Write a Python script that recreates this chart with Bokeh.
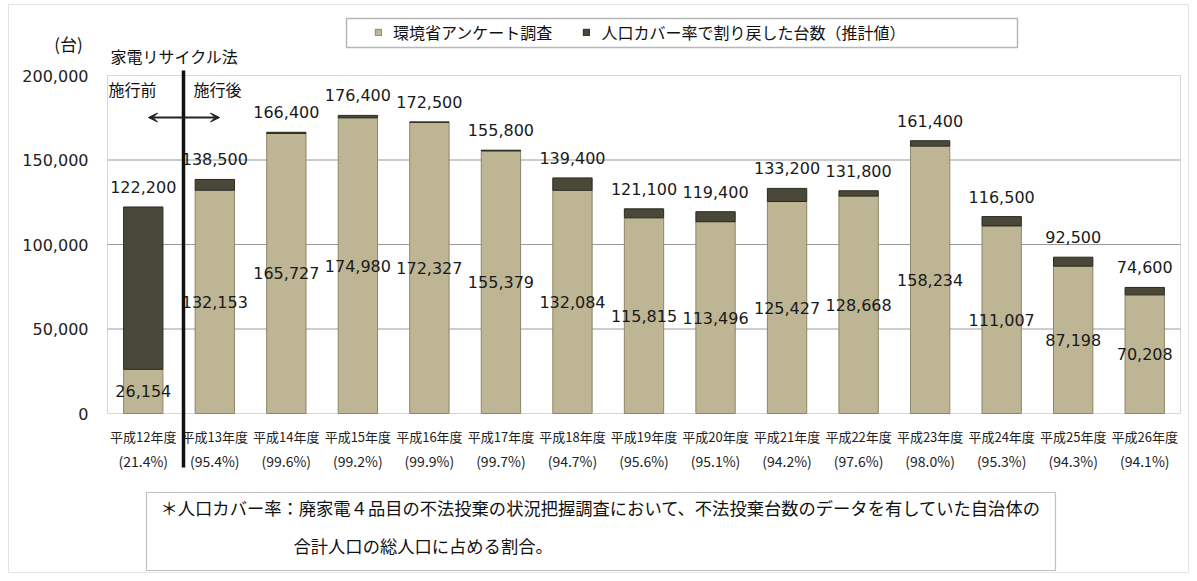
from bokeh.plotting import figure
from bokeh.models import (ColumnDataSource, Range1d, FixedTicker, NumeralTickFormatter,
                          LinearAxis, Legend, LegendItem, Label, Arrow, VeeHead,
                          BoxAnnotation)
from bokeh.core.properties import value
from bokeh.embed import file_html
from bokeh.resources import INLINE

# ---------------- data ----------------
years = ["平成12年度", "平成13年度", "平成14年度", "平成15年度", "平成16年度",
         "平成17年度", "平成18年度", "平成19年度", "平成20年度", "平成21年度",
         "平成22年度", "平成23年度", "平成24年度", "平成25年度", "平成26年度"]
survey = [26154, 132153, 165727, 174980, 172327, 155379, 132084, 115815,
          113496, 125427, 128668, 158234, 111007, 87198, 70208]
total = [122200, 138500, 166400, 176400, 172500, 155800, 139400, 121100,
         119400, 133200, 131800, 161400, 116500, 92500, 74600]
coverage = [21.4, 95.4, 99.6, 99.2, 99.9, 99.7, 94.7, 95.6, 95.1, 94.2,
            97.6, 98.0, 95.3, 94.3, 94.1]
series_names = ["環境省アンケート調査", "人口カバー率で割り戻した台数（推計値）"]
y_ticks = [0, 50000, 100000, 150000, 200000]
Y_MAX = 200000

# ---------------- layout / styles ----------------
W, H = 1189, 573
PLOT_L, PLOT_R, PLOT_T, PLOT_B = 107, 1180, 75, 413   # plot-area box in px
TAN = "#bdb593"
DARK = "#4a4939"
NUM_FONT = "DejaVu Sans"
JP_FONT = "Noto Sans CJK JP"
TXT = "#1a1a1a"

n = len(years)
kx = (PLOT_R - PLOT_L) / n
ky = Y_MAX / (PLOT_B - PLOT_T)
x_range = Range1d(-PLOT_L / kx, n + (W - PLOT_R) / kx)
y_range = Range1d(-(H - PLOT_B) * ky, Y_MAX + PLOT_T * ky)


def sx(X):
    return X


def sy(Y):
    return H - Y


xpos = [i + 0.5 for i in range(n)]
src = ColumnDataSource(dict(
    x=xpos,
    survey=survey,
    total=total,
    mid=[v / 2 for v in survey],
    survey_lbl=[f"{v:,}" for v in survey],
    total_lbl=[f"{v:,}" for v in total],
))

p = figure(width=W, height=H, x_range=x_range, y_range=y_range,
           output_backend="svg", toolbar_location=None,
           x_axis_location=None, y_axis_location=None,
           min_border=0, min_border_left=0, min_border_right=0,
           min_border_top=0, min_border_bottom=0)
p.background_fill_color = "white"
p.border_fill_color = "white"
p.outline_line_color = None
p.xgrid.visible = False
p.ygrid.visible = False

# grid lines inside the plot area
p.segment(x0=0, x1=n, y0=y_ticks[1:-1], y1=y_ticks[1:-1],
          line_color="#9a9a9a", line_width=1)
# plot-area frame
p.add_layout(BoxAnnotation(left=0, right=n, bottom=0, top=Y_MAX, fill_alpha=0,
                           line_color="#7a7a7a", line_width=1, level="underlay"))

r1 = p.vbar(x="x", bottom=0, top="survey", width=0.55, source=src,
            fill_color=TAN, line_color="#8c8669", line_width=1)
r2 = p.vbar(x="x", bottom="survey", top="total", width=0.55, source=src,
            fill_color=DARK, line_color="#2a291f", line_width=1)

# value labels
p.text(x="x", y="mid", text="survey_lbl", source=src,
       text_font=value(NUM_FONT), text_font_size=value("16px"),
       text_align="center", text_baseline="middle", text_color=TXT)
p.text(x="x", y="total", text="total_lbl", source=src, y_offset=-20,
       text_font=value(NUM_FONT), text_font_size=value("16px"),
       text_align="center", text_baseline="middle", text_color=TXT)

# y axis
yax = LinearAxis(fixed_location=0, ticker=FixedTicker(ticks=y_ticks),
                 formatter=NumeralTickFormatter(format="0,0"),
                 axis_line_color=None, major_tick_line_color=None,
                 minor_tick_line_color=None, major_tick_out=0, major_tick_in=0,
                 major_label_standoff=19, major_label_text_font=NUM_FONT,
                 major_label_text_font_size="16px", major_label_text_color="#222222")
p.add_layout(yax, "left")

# x axes: fiscal year row and coverage-rate row
common = dict(fixed_location=0, ticker=FixedTicker(ticks=xpos),
              axis_line_color=None, major_tick_line_color=None,
              minor_tick_line_color=None, major_tick_out=0, major_tick_in=0,
              major_label_text_font=JP_FONT, major_label_text_color="#222222")
xax1 = LinearAxis(major_label_overrides={x: y for x, y in zip(xpos, years)},
                  major_label_standoff=13, major_label_text_font_size="13px",
                  **common)
xax2 = LinearAxis(major_label_overrides={x: f"({c:.1f}%)" for x, c in zip(xpos, coverage)},
                  major_label_standoff=37, major_label_text_font_size="14px",
                  **common)
p.add_layout(xax1, "below")
p.add_layout(xax2, "below")

# legend (frame drawn separately)
legend = Legend(items=[LegendItem(label=series_names[0], renderers=[r1]),
                       LegendItem(label=series_names[1], renderers=[r2])],
                orientation="horizontal", location=(sx(374), sy(44)),
                glyph_width=8, glyph_height=8, label_standoff=11, spacing=30,
                padding=4, margin=0, border_line_color=None,
                background_fill_alpha=0,
                label_text_font=JP_FONT, label_text_font_size="16px",
                label_text_color="#111111")
p.add_layout(legend, "center")


def box(l, r, t, b, color, width):
    p.add_layout(BoxAnnotation(left=sx(l), right=sx(r), top=sy(t), bottom=sy(b),
                               left_units="screen", right_units="screen",
                               top_units="screen", bottom_units="screen",
                               fill_alpha=0, line_color=color, line_width=width))


box(346, 1017, 18, 47, "#111111", 1.5)     # legend frame
box(146, 1055, 492, 570, "#333333", 1.2)   # footnote frame
box(8, 1188, 4, 572, "#a8a8a8", 1)         # outer border


def lab(text, X, Y, size, align="left", font=JP_FONT):
    p.add_layout(Label(x=sx(X), y=sy(Y), x_units="screen", y_units="screen",
                       text=text, text_font=font, text_font_size=size,
                       text_align=align, text_baseline="middle",
                       text_color="#111111"))


lab("(台)", 68, 43, "17px", align="center")
lab("家電リサイクル法", 110, 55, "16px")
lab("施行前", 108, 88, "16px")
lab("施行後", 193, 88, "16px")
lab("＊人口カバー率：廃家電４品目の不法投棄の状況把握調査において、不法投棄台数のデータを有していた自治体の",
    160, 507, "17.3px")
lab("合計人口の総人口に占める割合。", 293, 545, "17.3px")

# law boundary line and double arrow
p.add_layout(Arrow(x_start=sx(183), y_start=sy(70), x_end=sx(183), y_end=sy(467),
                   start_units="screen", end_units="screen", end=None,
                   line_color="#111111", line_width=3.5))
p.add_layout(Arrow(x_start=sx(148), y_start=sy(117), x_end=sx(219), y_end=sy(117),
                   start_units="screen", end_units="screen",
                   start=VeeHead(size=9, fill_color="#222222", line_color="#222222"),
                   end=VeeHead(size=9, fill_color="#222222", line_color="#222222"),
                   line_color="#222222", line_width=2))

open("out.html", "w").write(file_html(p, INLINE))
